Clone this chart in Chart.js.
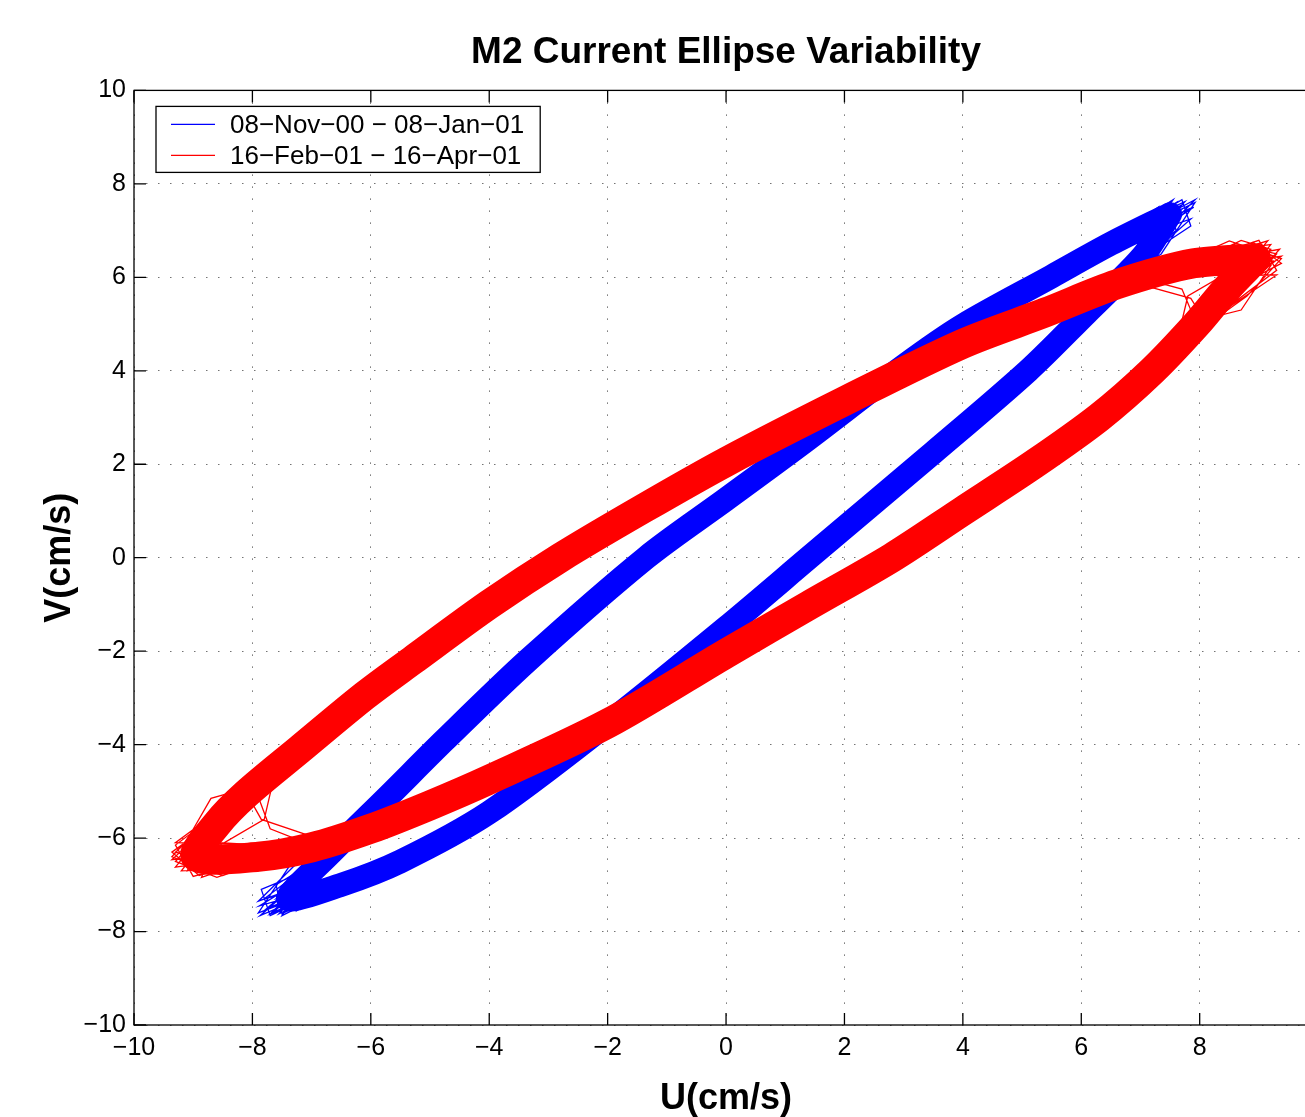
<!DOCTYPE html>
<html>
<head>
<meta charset="utf-8">
<title>M2 Current Ellipse Variability</title>
<script src="https://cdn.jsdelivr.net/npm/chart.js@4.4.1/dist/chart.umd.min.js"></script>
<style>
  html, body { margin: 0; padding: 0; background: #fff; overflow: hidden; }
  #wrap { width: 1305px; height: 1117px; overflow: hidden; }
  canvas { display: block; }
</style>
</head>
<body>
<div id="wrap"><canvas id="chart" width="1340" height="1121"></canvas></div>
<script>
// U/V in cm/s
const tickLabels = ['−10', '−8', '−6', '−4', '−2', '0', '2', '4', '6', '8', '10']
const legendLabels = ['08−Nov−00 − 08−Jan−01', '16−Feb−01 − 16−Apr−01']

// centre line of the dense band, once round each ellipse
const blueU = [7.5, 6.5, 5.5, 4.0, 3.0, 1.34, 0.0, -1.35, -3.35, -4.75, -5.7, -6.7, -7.4,
  -6.5, -5.5, -4.0, -2.0, 0.0, 1.4, 3.5, 5.1, 6.1, 6.7, 7.1, 7.5]
const blueV = [7.35, 6.72, 6.02, 4.97, 4.1, 2.5, 1.25, 0.0, -2.2, -3.9, -5.1, -6.35, -7.3,
  -7.0, -6.5, -5.45, -3.55, -1.5, 0.0, 2.25, 4.0, 5.25, 6.0, 6.55, 7.35]

const redU = [8.95, 7.9, 6.6, 5.4, 4.0, 2.0, 0.0, -1.4, -2.8, -4.0, -5.3, -6.1, -7.2, -8.1, -8.6, -8.95,
  -7.9, -7.0, -6.0, -5.0, -4.0, -2.0, 0.0, 1.4, 2.8, 4.0, 5.2, 6.3, 7.2, 7.95, 8.45, 8.95]
const redV = [6.4, 6.3, 5.85, 5.25, 4.58, 3.35, 2.05, 1.05, 0.0, -1.0, -2.2, -2.95, -4.1, -5.05, -5.7, -6.4,
  -6.4, -6.2, -5.8, -5.3, -4.75, -3.55, -2.05, -1.02, 0.0, 1.0, 2.0, 3.0, 4.0, 5.0, 5.75, 6.4]

// ragged hourly traces at the tips (null = pen up)
const blueFanU = [
  5.9, 7.92, 6.2, null, 6.1, 7.8, 6.4, null, 5.8, 7.6, 6.6, null, 6.2, 7.85, 6.0, null,
  6.0, 7.3, 6.9, 6.3, null, 6.4, 7.65, 7.1, 6.1, null, 5.7, 7.45, 6.5, null, 6.3, 7.0, 7.7, 6.8, null,
  5.6, 7.55, 6.9, null, 6.5, 7.9, 7.3, 6.4, null, 6.0, 7.2, 7.75, 6.7, null, 5.8, 7.1, 6.5, null,
  6.2, 7.92, 7.35, 6.6, null, 5.9, 7.7, 7.85, 6.9, null, 6.4, 7.5, 7.6, 6.5, null, 6.1, 6.9, 7.6, 7.2, null,
  -5.9, -7.87, -6.2, null, -6.1, -7.75, -6.4, null, -5.8, -7.55, -6.6, null, -6.2, -7.8, -6.0, null,
  -6.0, -7.25, -6.85, -6.3, null, -6.4, -7.6, -7.05, -6.1, null, -5.7, -7.4, -6.55, null,
  -6.3, -6.95, -7.65, -6.75, null, -5.5, -7.5, -6.95, null, -6.5, -7.88, -7.3, -6.4, null,
  -6.0, -7.15, -7.7, -6.7, null, -5.8, -7.0, -7.9, -6.98, null,
  -6.2, -7.9, -7.35, -6.6, null, -5.9, -7.7, -7.85, -6.9, null, -6.4, -7.5, -7.6, -6.5, null, -6.1, -6.9, -7.6, -7.2
]
const blueFanV = [
  6.3, 7.66, 5.44, null, 6.45, 7.45, 5.73, null, 6.22, 7.6, 6.0, null, 6.52, 7.25, 5.17, null,
  6.37, 7.5, 6.47, 5.59, null, 6.67, 7.4, 6.82, 5.3, null, 6.15, 7.3, 5.87, null, 6.6, 7.05, 7.55, 6.3, null,
  6.08, 7.66, 6.47, null, 6.75, 7.5, 7.0, 5.73, null, 6.37, 7.3, 7.62, 6.16, null, 6.22, 6.95, 5.87, null,
  6.55, 7.6, 6.5, 5.9, null, 6.3, 7.66, 7.1, 6.3, null, 6.65, 7.62, 7.0, 5.85, null, 6.45, 6.85, 7.2, 6.6, null,
  -6.6, -7.66, -5.8, null, -6.72, -7.5, -6.04, null, -6.55, -7.62, -6.28, null, -6.78, -7.3, -5.56, null,
  -6.66, -7.55, -6.55, -5.92, null, -6.9, -7.45, -6.75, -5.68, null, -6.5, -7.35, -6.22, null,
  -6.84, -7.25, -7.6, -6.45, null, -6.39, -7.66, -6.5, null, -6.95, -7.45, -7.0, -6.04, null,
  -6.66, -7.3, -7.62, -6.4, null, -6.55, -6.95, -7.35, -6.2, null,
  -6.78, -7.6, -6.55, -6.28, null, -6.6, -7.66, -7.1, -6.6, null, -6.9, -7.62, -7.0, -6.15, null, -6.72, -7.1, -7.3, -6.9
]

const redFanU = [
  7.3, 9.38, 8.0, null, 7.7, 9.15, 8.3, null, 7.1, 9.3, 7.75, null, 7.9, 8.7, 9.2, 8.5, null,
  7.5, 9.05, 8.85, 7.9, null, 7.2, 8.4, 9.25, 8.15, null, 7.6, 8.95, 7.8, 7.6, null,
  6.8, 7.85, 8.05, null, 7.0, 7.7, 7.95, null, 8.0, 8.7, 9.2, 7.6, null, 8.1, 9.35, 8.75, null,
  7.4, 8.9, 9.38, 8.4, null, 7.0, 8.6, 9.3, 8.6, 7.75, null, 7.8, 9.1, 8.3, null,
  7.3, 8.5, 9.38, 8.8, 7.7, null, 7.6, 9.0, 9.3, 8.2, null, 6.8, 8.2, 9.2, 8.7, 8.0, null, 7.2, 8.55, 8.4, null,
  -7.3, -9.36, -8.0, null, -7.7, -8.86, -8.3, null, -7.1, -9.3, -7.75, null, -7.9, -8.6, -9.15, -8.5, null,
  -7.5, -9.1, -8.85, -7.9, null, -7.2, -8.4, -9.3, -8.15, null, -7.6, -8.95, -7.8, -7.6, null,
  -6.8, -7.85, -8.05, null, -7.0, -7.7, -7.95, null, -8.0, -8.7, -9.2, -7.6, null, -8.1, -9.3, -8.75, null,
  -7.4, -8.9, -9.36, -8.4, null, -7.0, -8.6, -9.3, -8.6, -7.75, null, -7.8, -9.1, -8.3, null,
  -7.3, -8.5, -9.36, -8.8, -7.7, null, -7.6, -9.0, -9.3, -8.2, null, -6.8, -8.2, -9.2, -8.7, -8.0, null, -7.2, -8.55, -8.4
]
const redFanV = [
  6.1, 6.45, 5.08, null, 6.23, 6.78, 5.53, null, 6.03, 6.05, 4.73, null, 6.3, 6.79, 6.6, 5.8, null,
  6.16, 6.7, 5.95, 4.93, null, 6.06, 6.6, 6.35, 5.3, null, 6.2, 6.45, 5.6, 4.53, null,
  5.92, 5.55, 5.15, null, 5.99, 5.75, 5.0, null, 5.08, 5.3, 6.25, 6.2, null, 6.32, 6.6, 5.75, null,
  6.13, 6.75, 6.3, 5.65, null, 5.99, 6.7, 6.5, 5.5, 4.73, null, 6.27, 6.55, 5.53, null,
  6.1, 6.78, 6.4, 5.6, 4.6, null, 6.2, 6.79, 6.15, 5.1, null, 5.95, 6.55, 6.7, 5.9, 5.05, null, 6.06, 6.1, 5.4, null,
  -6.23, -6.46, -4.9, null, -6.34, -6.84, -5.28, null, -6.18, -6.1, -4.65, null, -6.4, -6.75, -6.55, -5.56, null,
  -6.29, -6.7, -5.95, -4.8, null, -6.2, -6.6, -6.3, -5.07, null, -6.31, -6.45, -5.6, -4.5, null,
  -6.05, -5.6, -5.15, null, -6.15, -5.8, -4.95, null, -4.9, -5.15, -6.25, -6.31, null, -6.4, -6.62, -5.75, null,
  -6.26, -6.8, -6.3, -5.42, null, -6.15, -6.84, -6.5, -5.5, -4.65, null, -6.37, -6.55, -5.28, null,
  -6.23, -6.8, -6.4, -5.6, -4.6, null, -6.31, -6.82, -6.15, -5.1, null, -6.05, -6.65, -6.7, -5.9, -4.9, null, -6.2, -6.1, -5.4
]

const FONT = '"Liberation Sans", Arial, Helvetica, sans-serif'
const BLUE = '#0000ff'
const RED = '#ff0000'

Chart.defaults.font.family = FONT
Chart.defaults.color = '#000'

function pts(us, vs) {
  return us.map((u, i) => ({ x: u, y: vs[i] }))
}

function band(label, us, vs, color, width, order) {
  return {
    label: label,
    showInLegend: true,
    data: pts(us, vs),
    showLine: true,
    borderColor: color,
    backgroundColor: color,
    borderWidth: width,
    borderJoinStyle: 'round',
    borderCapStyle: 'round',
    tension: 0.3,
    pointRadius: 0,
    order: order
  }
}

function fan(us, vs, color, order) {
  return {
    data: pts(us, vs),
    showLine: true,
    spanGaps: false,
    borderColor: color,
    borderWidth: 1.3,
    tension: 0,
    pointRadius: 0,
    order: order
  }
}

// box round the axes, inward ticks on all four sides, legend in the corner
const matlabAxes = {
  id: 'matlabAxes',
  beforeDatasetsDraw(chart) {
    const { ctx, chartArea: a, scales } = chart
    const len = 12
    ctx.save()
    ctx.strokeStyle = '#000'
    ctx.lineWidth = 1.3
    ctx.strokeRect(a.left, a.top, a.right - a.left, a.bottom - a.top)
    ctx.beginPath()
    scales.x.ticks.forEach(t => {
      const px = scales.x.getPixelForValue(t.value)
      ctx.moveTo(px, a.bottom)
      ctx.lineTo(px, a.bottom - len)
      ctx.moveTo(px, a.top)
      ctx.lineTo(px, a.top + len)
    })
    scales.y.ticks.forEach(t => {
      const py = scales.y.getPixelForValue(t.value)
      ctx.moveTo(a.left, py)
      ctx.lineTo(a.left + len, py)
      ctx.moveTo(a.right, py)
      ctx.lineTo(a.right - len, py)
    })
    ctx.stroke()
    ctx.restore()
  },
  afterDraw(chart) {
    const { ctx, chartArea: a } = chart
    const entries = chart.data.datasets.filter(d => d.showInLegend)
    ctx.save()
    ctx.font = '26px ' + FONT
    const textW = Math.max(...entries.map(d => ctx.measureText(d.label).width))
    const left = a.left + 22
    const top = a.top + 16
    const w = 74 + textW + 16
    const h = 66
    ctx.fillStyle = '#fff'
    ctx.fillRect(left, top, w, h)
    ctx.strokeStyle = '#000'
    ctx.lineWidth = 1.3
    ctx.strokeRect(left, top, w, h)
    entries.forEach((d, i) => {
      const y = top + 18 + i * 31
      ctx.strokeStyle = d.borderColor
      ctx.lineWidth = 1.2
      ctx.beginPath()
      ctx.moveTo(left + 15, y)
      ctx.lineTo(left + 59, y)
      ctx.stroke()
      ctx.fillStyle = '#000'
      ctx.textBaseline = 'middle'
      ctx.fillText(d.label, left + 74, y + 1)
    })
    ctx.restore()
  }
}

// red sits on top of blue (lower order is drawn last)
const datasets = [
  band(legendLabels[0], blueU, blueV, BLUE, 24, 2),
  fan(blueFanU, blueFanV, BLUE, 2),
  band(legendLabels[1], redU, redV, RED, 30, 1),
  fan(redFanU, redFanV, RED, 1)
]

const gridStyle = { color: 'rgba(0,0,0,0.55)', lineWidth: 1, drawTicks: false }
const borderStyle = { display: false, dash: [1.5, 10.5] }

new Chart(document.getElementById('chart'), {
  type: 'scatter',
  data: { datasets: datasets },
  options: {
    responsive: false,
    animation: false,
    events: [],
    layout: { padding: { left: 0, right: 20, top: 0, bottom: 0 } },
    plugins: {
      legend: { display: false },
      tooltip: { enabled: false },
      title: {
        display: true,
        fullSize: false,
        text: 'M2 Current Ellipse Variability',
        color: '#000',
        font: { size: 37, weight: 'bold' },
        padding: { top: 31, bottom: 15 }
      }
    },
    scales: {
      x: {
        type: 'linear',
        min: -10,
        max: 10,
        ticks: {
          stepSize: 2,
          color: '#000',
          font: { size: 25 },
          padding: 8,
          callback: (v, i) => tickLabels[i]
        },
        grid: gridStyle,
        border: borderStyle,
        title: {
          display: true,
          text: 'U(cm/s)',
          color: '#000',
          font: { size: 36, weight: 'bold' },
          padding: { top: 0, bottom: 0 }
        },
        afterFit: s => { s.height = 96 }
      },
      y: {
        type: 'linear',
        min: -10,
        max: 10,
        ticks: {
          stepSize: 2,
          color: '#000',
          font: { size: 25 },
          padding: 8,
          callback: (v, i) => tickLabels[i]
        },
        grid: gridStyle,
        border: borderStyle,
        title: {
          display: true,
          text: 'V(cm/s)',
          color: '#000',
          font: { size: 36, weight: 'bold' },
          padding: { top: 38, bottom: 0 }
        },
        afterFit: s => { s.width = 134 }
      }
    }
  },
  plugins: [matlabAxes]
})
</script>
</body>
</html>
